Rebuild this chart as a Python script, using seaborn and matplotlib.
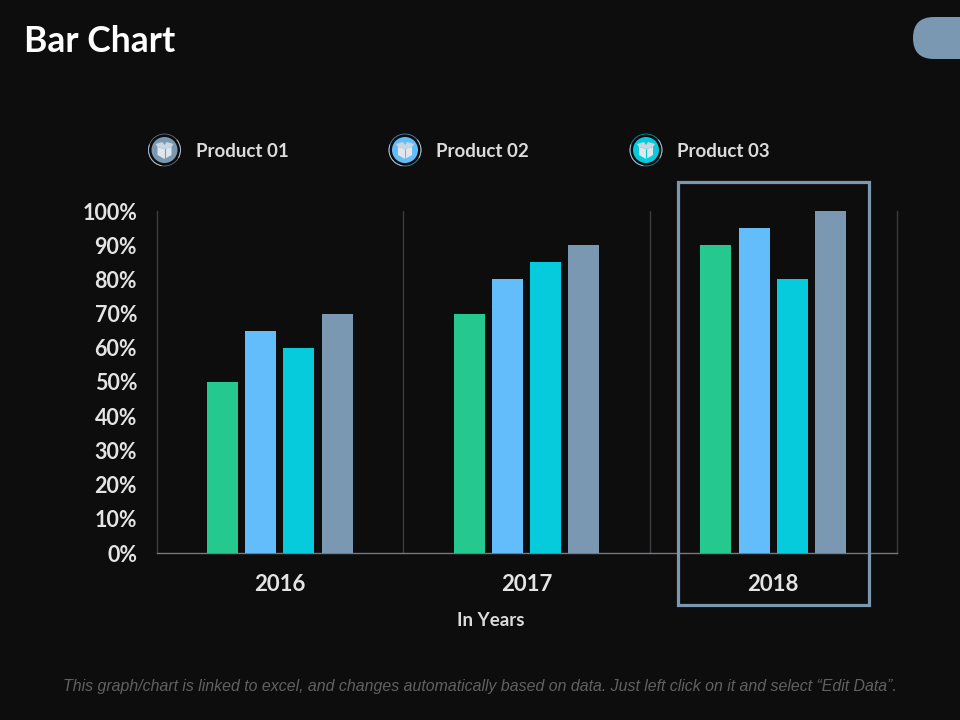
import matplotlib
matplotlib.use("Agg")
import matplotlib.pyplot as plt
from matplotlib.patches import Circle, Rectangle, FancyBboxPatch, Polygon, Arc
import seaborn as sns
import pandas as pd

years = ["2016", "2017", "2018"]
series_names = ["Series A", "Product 02", "Product 03", "Product 01"]
series_a = [50, 70, 90]
product_02 = [65, 80, 95]
product_03 = [60, 85, 80]
product_01 = [70, 90, 100]
colors = ["#25c98f", "#64bdfb", "#05cbdc", "#7b98b3"]
y_ticks = [0, 10, 20, 30, 40, 50, 60, 70, 80, 90, 100]
legend_names = ["Product 01", "Product 02", "Product 03"]
legend_colors = ["#7b98b3", "#64bdfb", "#05cbdc"]

BG = "#0d0d0e"
sns.set_theme(style="dark")
plt.rcParams["font.family"] = ["Lato", "DejaVu Sans"]

df = pd.DataFrame({
    "year": years * 4,
    "series": [n for n in series_names for _ in years],
    "value": series_a + product_02 + product_03 + product_01,
})

fig = plt.figure(figsize=(9.6, 7.2), dpi=100, facecolor=BG)
ax = fig.add_axes([156.5 / 960, 1 - 553 / 720, 740 / 960, 342 / 720], facecolor=BG)
sns.barplot(data=df, x="year", y="value", hue="series", hue_order=series_names,
            palette=colors, width=0.62, gap=0.19, saturation=1, legend=False, ax=ax, zorder=3,
            linewidth=0, edgecolor="none")
ax.set_xlim(-0.5, 2.5)
ax.set_ylim(0, 100)
ax.set_xlabel("")
ax.set_ylabel("")
ax.set_yticks(y_ticks)
ax.set_yticklabels([f"{v}%" for v in y_ticks], fontsize=15.5, fontweight="bold", color="#e4e4e4")
ax.set_xticks(range(len(years)))
ax.set_xticklabels(years, fontsize=16, fontweight="bold", color="#e4e4e4")
ax.tick_params(axis="both", length=0)
ax.tick_params(axis="y", pad=14)
ax.tick_params(axis="x", pad=15)
ax.grid(False)
for x in [0.5, 1.5]:
    ax.axvline(x, color="#3c3d3f", lw=1, zorder=1)
ax.spines["top"].set_visible(False)
for s in ["left", "right"]:
    ax.spines[s].set_color("#3c3d3f")
    ax.spines[s].set_linewidth(1)
ax.spines["bottom"].set_color("#77787a")
ax.spines["bottom"].set_linewidth(1)

ov = fig.add_axes([0, 0, 1, 1], facecolor="none")
ov.set_xlim(0, 960)
ov.set_ylim(720, 0)
ov.axis("off")

ov.text(24, 41, "Bar Chart", fontsize=25.6, fontweight="bold", color="white", va="center", ha="left")
ov.add_patch(FancyBboxPatch((913, 17), 90, 42, boxstyle="round,pad=0,rounding_size=21",
                            fc="#7b98b3", ec="none", clip_on=True))
ov.add_patch(Rectangle((678, 181.5), 190.5, 423, fc="none", ec="#7b98b3", lw=2.3))
ov.text(491, 620, "In Years", fontsize=13.5, fontweight="bold", color="#dcdcdc", ha="center", va="center")
ov.text(480, 686, "This graph/chart is linked to excel, and changes automatically based on data. Just left click on it and select \u201cEdit Data\u201d.",
        fontsize=11.4, style="italic", family="Liberation Sans", color="#606163", ha="center", va="center")

for cx, tx, name, col in zip([164.5, 405, 646], [196, 436, 677], legend_names, legend_colors):
    cy = 150
    ov.add_patch(Circle((cx, cy), 13, fc=col, ec="none"))
    ov.add_patch(Circle((cx, cy), 16, fc="none", ec=col, lw=0.6, alpha=0.7))
    ov.add_patch(Arc((cx, cy), 32, 32, theta1=100, theta2=200, ec="#aebcc8", lw=0.7))
    ov.add_patch(Arc((cx, cy), 32, 32, theta1=-40, theta2=30, ec="#aebcc8", lw=0.7))
    ov.add_patch(Polygon([(cx - 7, cy - 3), (cx, cy - 1), (cx + 7, cy - 3), (cx + 7, cy + 5),
                          (cx, cy + 9), (cx - 7, cy + 5)], fc="#dfe6ec", ec="none"))
    ov.add_patch(Polygon([(cx - 9, cy - 6), (cx - 2, cy - 8), (cx, cy - 5), (cx + 2, cy - 8),
                          (cx + 9, cy - 6), (cx + 7, cy - 3), (cx, cy - 1), (cx - 7, cy - 3)],
                         fc="#c9d6e0", ec="none"))
    ov.add_line(plt.Line2D([cx, cx], [cy - 1, cy + 9], color=col, lw=0.8))
    ov.text(tx, cy + 1.5, name, fontsize=13.5, fontweight="bold", color="#dcdcdc", ha="left", va="center")

fig.savefig("out.png", dpi=100, facecolor=BG)
